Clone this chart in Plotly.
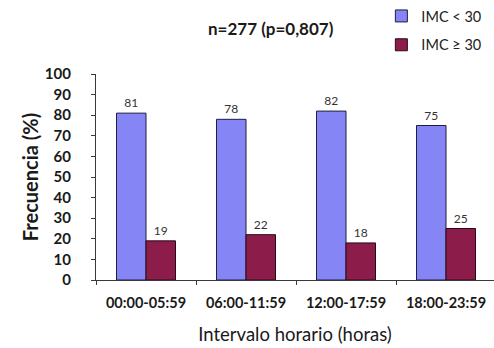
import plotly.graph_objects as go

categories = ["00:00-05:59", "06:00-11:59", "12:00-17:59", "18:00-23:59"]
imc_lt30 = [81, 78, 82, 75]
imc_ge30 = [19, 22, 18, 25]
series_names = ["IMC < 30", "IMC ≥ 30"]
title_text = "n=277 (p=0,807)"
y_ticks = [0, 10, 20, 30, 40, 50, 60, 70, 80, 90, 100]

FONT = "Lato"
AXIS = "#3a3a3a"

fig = go.Figure()
fig.add_trace(go.Bar(
    x=categories, y=imc_lt30, name=series_names[0], legendgroup="a",
    marker=dict(color="#8585F5", line=dict(color="#1e1e40", width=1)),
    text=imc_lt30, textposition="outside", cliponaxis=False,
    textfont=dict(family=FONT, size=12, color="#333333"),
))
fig.add_trace(go.Bar(
    x=categories, y=imc_ge30, name=series_names[1], legendgroup="b",
    marker=dict(color="#8C1C4A", line=dict(color="#2a0a18", width=1)),
    text=imc_ge30, textposition="outside", cliponaxis=False,
    textfont=dict(family=FONT, size=12, color="#333333"),
))

fig.update_layout(
    width=494, height=348,
    margin=dict(l=96, r=0, t=74, b=68, autoexpand=False),
    paper_bgcolor="white", plot_bgcolor="white",
    barmode="group", bargap=0.41, bargroupgap=0,
    font=dict(family=FONT, color="#1a1a1a"),
    showlegend=True,
    legend=dict(
        xref="container", yref="container", x=0.772, y=1.0,
        xanchor="left", yanchor="top",
        font=dict(family=FONT, size=14.5, color="#222222"),
        traceorder="grouped", tracegroupgap=7,
        bgcolor="rgba(0,0,0,0)", itemwidth=30,
    ),
)
fig.add_annotation(
    text="<b>" + title_text + "</b>", xref="paper", yref="paper",
    x=(271 - 96) / 398, y=1 + (74 - 28) / 206, showarrow=False,
    font=dict(family=FONT, size=17, color="#1a1a1a"),
    xanchor="center", yanchor="middle",
)
fig.update_xaxes(
    range=[-0.5, 3.48],
    showline=True, linecolor=AXIS, linewidth=1.2,
    ticks="outside", tickson="boundaries", ticklen=4, tickcolor=AXIS,
    tickangle=0, ticklabelstandoff=9,
    tickfont=dict(family=FONT, size=14.5, color="#1a1a1a", weight="bold"),
    title=dict(text="Intervalo horario (horas)", standoff=18,
               font=dict(family=FONT, size=18.5, color="#1a1a1a")),
    showgrid=False,
)
fig.update_yaxes(
    range=[0, 100], tickvals=y_ticks,
    showline=True, linecolor=AXIS, linewidth=1.2,
    ticks="outside", ticklen=4, tickcolor=AXIS,
    tickfont=dict(family=FONT, size=15, color="#1a1a1a", weight="bold"),
    ticklabelstandoff=17,
    title=dict(text="<b>Frecuencia (%)</b>", standoff=0,
               font=dict(family=FONT, size=20, color="#1a1a1a")),
    showgrid=False, zeroline=False,
)

fig.write_html("out.html")
